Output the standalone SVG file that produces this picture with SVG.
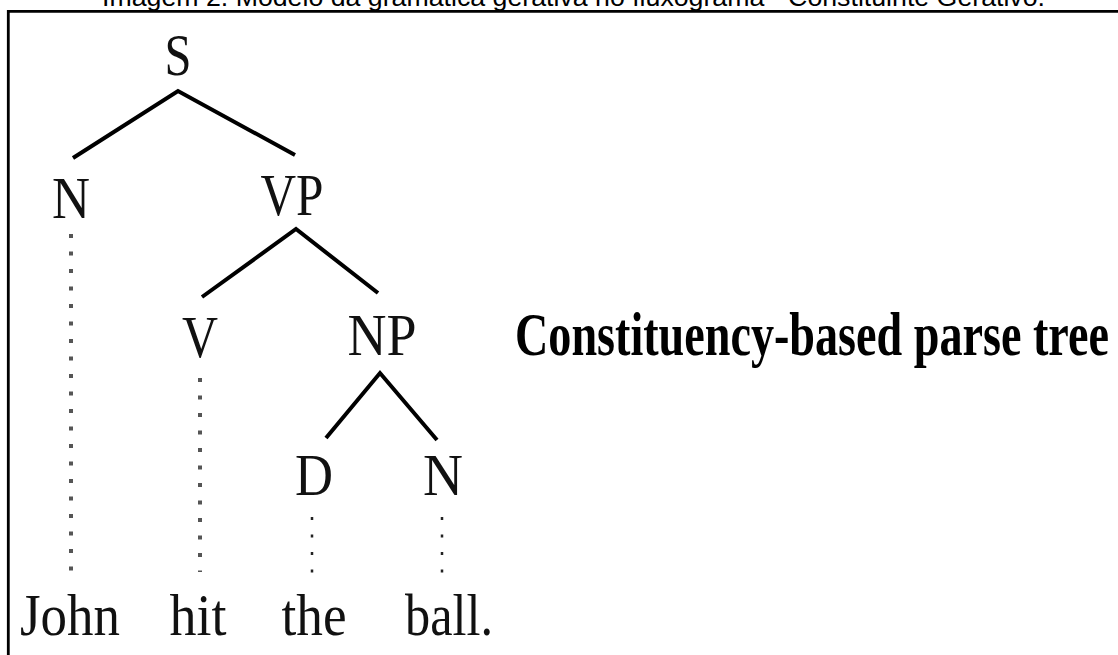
<svg xmlns="http://www.w3.org/2000/svg" width="1118" height="655" viewBox="0 0 1118 655">
<style>
.cap{font-family:"Liberation Sans",Arial,sans-serif;font-size:26.7px;fill:#000}
.lbl{font-family:"Liberation Serif","Times New Roman",serif;font-size:60px;fill:#111;text-anchor:middle}
.ttl{font-family:"Liberation Serif","Times New Roman",serif;font-size:62px;font-weight:bold;fill:#000}
.edge{stroke:#000;stroke-width:4;fill:none;stroke-linecap:butt}
.dot{stroke:#555;stroke-width:4;fill:none;stroke-dasharray:4 13.5}
.dot2{stroke:#222;stroke-width:2.5;fill:none;stroke-dasharray:3 14.5}
</style>
<rect width="1118" height="655" fill="#fff"/>
<text class="cap" x="102" y="6" textLength="943" lengthAdjust="spacingAndGlyphs">Imagem 2. Modelo da gramática gerativa no fluxograma - Constituinte Gerativo.</text>
<path d="M8 11.3H1118M8.3 10V655" stroke="#000" stroke-width="2.8" fill="none"/>
<g id="connectors">
<path class="edge" d="M73 158L178 91L295 155"/>
<path class="edge" d="M202 297L296 229L378 293"/>
<path class="edge" d="M326 438L380 373L437 440"/>
<path class="dot" d="M71 234V572"/>
<path class="dot" d="M200 378V572"/>
<path class="dot2" d="M312 517V575"/>
<path class="dot2" d="M442 517V575"/>
</g>
<g id="node-S"><text class="lbl" x="178" y="75" textLength="27" lengthAdjust="spacingAndGlyphs">S</text></g>
<g id="node-N1"><text class="lbl" x="71" y="218" textLength="38" lengthAdjust="spacingAndGlyphs">N</text></g>
<g id="node-VP"><text class="lbl" x="292" y="215" textLength="63" lengthAdjust="spacingAndGlyphs">VP</text></g>
<g id="node-V"><text class="lbl" x="200" y="357" textLength="36" lengthAdjust="spacingAndGlyphs">V</text></g>
<g id="node-NP"><text class="lbl" x="382" y="355" textLength="69" lengthAdjust="spacingAndGlyphs">NP</text></g>
<g id="node-D"><text class="lbl" x="314" y="495" textLength="38" lengthAdjust="spacingAndGlyphs">D</text></g>
<g id="node-N2"><text class="lbl" x="443" y="495" textLength="40" lengthAdjust="spacingAndGlyphs">N</text></g>
<g id="word-John"><text class="lbl" x="70" y="635" textLength="100" lengthAdjust="spacingAndGlyphs">John</text></g>
<g id="word-hit"><text class="lbl" x="198" y="635" textLength="57" lengthAdjust="spacingAndGlyphs">hit</text></g>
<g id="word-the"><text class="lbl" x="314" y="635" textLength="65" lengthAdjust="spacingAndGlyphs">the</text></g>
<g id="word-ball"><text class="lbl" x="449" y="635" textLength="88" lengthAdjust="spacingAndGlyphs">ball.</text></g>
<g id="title"><text class="ttl" x="515" y="355" textLength="594" lengthAdjust="spacingAndGlyphs">Constituency-based parse tree</text></g>
</svg>
